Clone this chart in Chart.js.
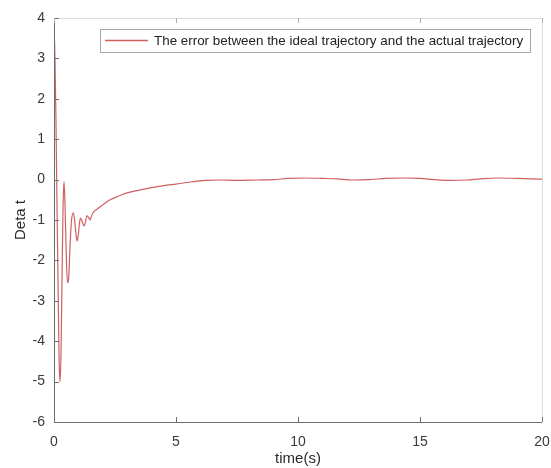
<!DOCTYPE html>
<html>
<head>
<meta charset="utf-8">
<script src="https://cdn.jsdelivr.net/npm/chart.js@4/dist/chart.umd.min.js"></script>
<style>
  html, body { margin: 0; padding: 0; background: #fff; }
  #wrap { width: 551px; height: 468px; }
</style>
</head>
<body>
<div id="wrap"><canvas id="my-chart" width="551" height="468"></canvas></div>
<script>
'use strict';

// *********** DATA ****************

let timeSec = [0, 0.04, 0.08, 0.12, 0.17, 0.21, 0.25, 0.29, 0.33, 0.37, 0.41, 0.45, 0.5, 0.55, 0.6,
  0.66, 0.72, 0.8, 0.86, 0.91, 0.95, 1.0, 1.05, 1.09, 1.16, 1.23, 1.29, 1.34, 1.41, 1.48, 1.54, 1.6,
  1.75, 1.9, 2.1, 2.3, 2.6, 3.0, 3.5, 4.0, 4.5, 5.0, 5.6, 6.2, 6.8, 7.5, 8.3, 9.0, 9.6, 10.3, 11.0,
  11.6, 12.2, 12.9, 13.6, 14.3, 15.0, 15.6, 16.2, 16.9, 17.5, 18.2, 19.0, 19.6, 20];

let errorVals = [3.85, 3.0, 1.5, -0.5, -2.8, -4.5, -5.0, -4.2, -2.4, -0.7, -0.05, -0.6, -1.8, -2.55, -2.45,
  -1.6, -1.0, -0.82, -1.1, -1.4, -1.52, -1.35, -1.05, -0.95, -1.05, -1.15, -1.05, -0.9, -0.93, -1.0, -0.9, -0.82,
  -0.74, -0.67, -0.58, -0.5, -0.42, -0.33, -0.26, -0.2, -0.15, -0.11, -0.06, -0.02, -0.01, -0.02, -0.01, 0.0, 0.03, 0.04, 0.03,
  0.02, -0.01, 0.0, 0.03, 0.04, 0.03, 0.0, -0.02, -0.01, 0.02, 0.04, 0.03, 0.02, 0.01];

let xTicks = [0, 5, 10, 15, 20];
let yTicks = [-6, -5, -4, -3, -2, -1, 0, 1, 2, 3, 4];

let seriesLabel = 'The error between the ideal trajectory and the actual trajectory';
let lineColor = 'rgb(208,96,96)';
let fontFam = '"Liberation Sans", Arial, sans-serif';

// ********** HELPERS ***************

let points = [];
for (let i = 0; i < timeSec.length; i++) {
  points.push({ x: timeSec[i], y: errorVals[i] });
}

// matlab style inward ticks + faint box + legend
let boxTicks = {
  id: 'boxTicks',
  afterDraw(chart) {
    let c = chart.ctx;
    let a = chart.chartArea;
    let xs = chart.scales.x;
    let ys = chart.scales.y;
    c.save();
    // faint top/right box
    c.strokeStyle = '#dcdcdc';
    c.lineWidth = 1;
    c.beginPath();
    c.moveTo(a.left, a.top + 0.5);
    c.lineTo(a.right + 0.5, a.top + 0.5);
    c.lineTo(a.right + 0.5, a.bottom);
    c.stroke();
    // main axes
    c.strokeStyle = '#6e6e6e';
    c.beginPath();
    c.moveTo(a.left + 0.5, a.top);
    c.lineTo(a.left + 0.5, a.bottom + 0.5);
    c.lineTo(a.right, a.bottom + 0.5);
    c.stroke();
    // ticks
    c.beginPath();
    for (let i = 0; i < xTicks.length; i++) {
      let px = Math.round(xs.getPixelForValue(xTicks[i])) + 0.5;
      c.moveTo(px, a.bottom);
      c.lineTo(px, a.bottom - 5);
    }
    for (let i = 0; i < yTicks.length; i++) {
      let py = Math.round(ys.getPixelForValue(yTicks[i])) + 0.5;
      c.moveTo(a.left, py);
      c.lineTo(a.left + 5, py);
    }
    c.stroke();
    c.strokeStyle = '#b0b0b0';
    c.beginPath();
    for (let i = 0; i < xTicks.length; i++) {
      let px = Math.round(xs.getPixelForValue(xTicks[i])) + 0.5;
      c.moveTo(px, a.top);
      c.lineTo(px, a.top + 5);
    }
    c.stroke();

    // legend box
    let bx = 100, by = 29.5, bw = 430, bh = 23;
    c.fillStyle = '#fff';
    c.fillRect(bx, by, bw, bh);
    c.strokeStyle = '#a8a8a8';
    c.strokeRect(bx + 0.5, by, bw, bh);
    c.strokeStyle = lineColor;
    c.lineWidth = 1.3;
    c.beginPath();
    c.moveTo(105, 40.5);
    c.lineTo(148, 40.5);
    c.stroke();
    c.fillStyle = '#222';
    c.font = '13.4px ' + fontFam;
    c.textBaseline = 'middle';
    c.fillText(chart.data.datasets[0].label, 154, 41);
    c.restore();
  }
};

// ********** CHART ***************

let ctx = document.getElementById('my-chart').getContext('2d');

new Chart(ctx, {
  type: 'line',
  data: {
    datasets: [{
      label: seriesLabel,
      data: points,
      borderColor: lineColor,
      borderWidth: 1.2,
      pointRadius: 0,
      fill: false,
      cubicInterpolationMode: 'monotone'
    }]
  },
  options: {
    animation: false,
    responsive: false,
    layout: { padding: { left: 0, right: 9, top: 18, bottom: 0 } },
    plugins: { legend: { display: false }, tooltip: { enabled: false } },
    scales: {
      x: {
        type: 'linear',
        min: 0,
        max: 20,
        afterBuildTicks: (s) => { s.ticks = xTicks.map(v => ({ value: v })); },
        afterFit: (s) => { s.height = 46; s.paddingLeft = 0; s.paddingRight = 0; },
        grid: { display: false, drawTicks: false },
        border: { display: false },
        ticks: {
          padding: 12,
          color: '#3a3a3a',
          font: { family: fontFam, size: 14 }
        },
        title: {
          display: true,
          text: 'time(s)',
          color: '#2a2a2a',
          padding: { top: -1, bottom: 0 },
          font: { family: fontFam, size: 15 }
        }
      },
      y: {
        min: -6,
        max: 4,
        afterBuildTicks: (s) => { s.ticks = yTicks.map(v => ({ value: v })); },
        afterFit: (s) => { s.width = 54; },
        grid: { display: false, drawTicks: false },
        border: { display: false },
        ticks: {
          padding: 9,
          color: '#3a3a3a',
          font: { family: fontFam, size: 14 }
        },
        title: {
          display: true,
          text: 'Deta t',
          color: '#2a2a2a',
          padding: { top: 12, bottom: 0 },
          font: { family: fontFam, size: 15 }
        }
      }
    }
  },
  plugins: [boxTicks]
});
</script>
</body>
</html>
